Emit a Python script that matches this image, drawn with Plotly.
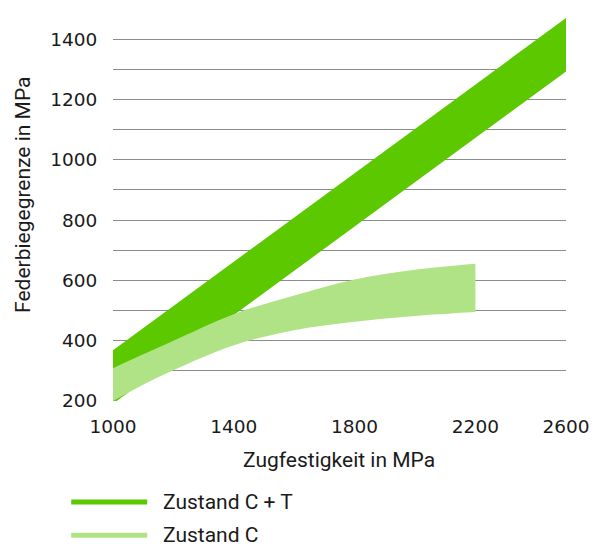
import plotly.graph_objects as go

# Zustand C + T band (edges)
ct_x = [1000, 2500]
ct_upper = [368, 1470]
ct_lower = [191, 1293]

# Zustand C band (edges)
c_x = [1000, 1100, 1200, 1400, 1600, 1800, 2000, 2200]
c_upper = [309, 355, 400, 488, 550, 603, 635, 655]
c_lower = [200, 254, 302, 385, 435, 463, 482, 495]

x_tickvals = [1000, 1400, 1800, 2200, 2500]
x_ticktext = ["1000", "1400", "1800", "2200", "2600"]
y_tickvals = [200, 400, 600, 800, 1000, 1200, 1400]

series_names = ["Zustand C + T", "Zustand C"]
dark = "#5CC800"
light = "#AFE386"

fig = go.Figure()
fig.add_trace(go.Scatter(x=ct_x, y=ct_lower, mode="lines", line=dict(width=0, color=dark),
                         showlegend=False, hoverinfo="skip"))
fig.add_trace(go.Scatter(x=ct_x, y=ct_upper, mode="lines", line=dict(width=0, color=dark),
                         fill="tonexty", fillcolor=dark, name=series_names[0], showlegend=False))
fig.add_trace(go.Scatter(x=c_x, y=c_lower, mode="lines", line=dict(width=0, color=light, shape="spline"),
                         showlegend=False, hoverinfo="skip"))
fig.add_trace(go.Scatter(x=c_x, y=c_upper, mode="lines", line=dict(width=0, color=light, shape="spline"),
                         fill="tonexty", fillcolor=light, name=series_names[1], showlegend=False))

OFF = 8  # page body margin
W, H = 609 - OFF, 546 - OFF
L, T = 112.5 - OFF, 8.5 - OFF
pw, ph = 453.2, 392.2
R = W - L - pw
B = H - T - ph

def px_x(px):
    return (px - OFF - L) / pw

def px_y(py):
    return (T + ph - (py - OFF)) / ph

txt = "#1a1a1a"
title_font = dict(family="Roboto", size=21, color=txt)
tick_font = dict(family="DejaVu Sans", size=18.5, color=txt)

fig.update_layout(
    width=W, height=H,
    margin=dict(l=L, r=R, t=T, b=B, autoexpand=False),
    plot_bgcolor="white", paper_bgcolor="white",
    showlegend=False,
    xaxis=dict(range=[1000, 2500], tickvals=x_tickvals, ticktext=x_ticktext,
               showgrid=False, zeroline=False, showline=False, tickfont=tick_font,
               ticks="outside", ticklen=9, tickcolor="rgba(0,0,0,0)"),
    yaxis=dict(range=[200, 1500], tickvals=y_tickvals,
               showgrid=True, gridcolor="#8c8c8c", gridwidth=1.2, zeroline=False, showline=False,
               minor=dict(dtick=100, tick0=200, showgrid=True, gridcolor="#8c8c8c", gridwidth=1.2),
               tickfont=tick_font,
               ticks="outside", ticklen=11, tickcolor="rgba(0,0,0,0)"),
)

annotations = [
    dict(text="Zugfestigkeit in MPa", x=px_x(338.5), y=px_y(460), xref="paper", yref="paper",
         xanchor="center", yanchor="middle", showarrow=False, font=title_font),
    dict(text="Federbiegegrenze in MPa", x=px_x(23), y=px_y(195), xref="paper", yref="paper",
         xanchor="center", yanchor="middle", textangle=-90, showarrow=False, font=title_font),
]
shapes = []
for name, col, py in [(series_names[0], dark, 501.7), (series_names[1], light, 535)]:
    shapes.append(dict(type="line", xref="paper", yref="paper", x0=px_x(70.7), x1=px_x(146.7),
                       y0=px_y(py), y1=px_y(py), line=dict(color=col, width=5)))
    annotations.append(dict(text=name, x=px_x(161), y=px_y(py), xref="paper", yref="paper",
                            xanchor="left", yanchor="middle", showarrow=False, font=title_font))

fig.update_layout(annotations=annotations, shapes=shapes)
fig.write_html("out.html")
